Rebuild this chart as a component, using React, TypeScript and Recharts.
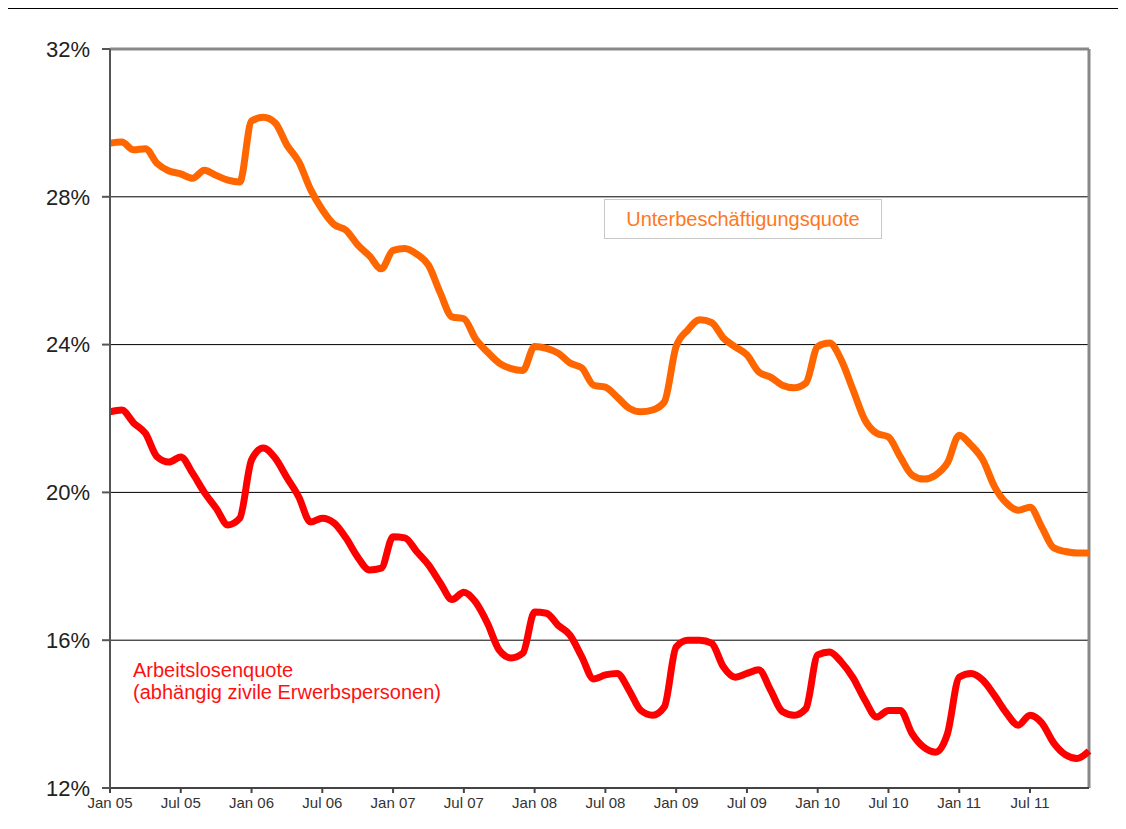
import { LineChart, Line, XAxis, YAxis, CartesianGrid, ReferenceLine } from 'recharts';

const years = ['05', '06', '07', '08', '09', '10', '11'];
const monthNames = ['Jan', 'Feb', 'Mar', 'Apr', 'May', 'Jun', 'Jul', 'Aug', 'Sep', 'Oct', 'Nov', 'Dec'];
const months = years.flatMap((y) => monthNames.map((m) => `${m} ${y}`));

const xTicks = years.flatMap((y) => [`Jan ${y}`, `Jul ${y}`]);
const yTicks = [12, 16, 20, 24, 28, 32];

// Unterbeschäftigungsquote, % (monthly, Jan 05 - Dec 11)
const unterbeschaeftigung = [
  29.45, 29.48, 29.27, 29.3, 28.9, 28.7, 28.62, 28.5, 28.72, 28.58, 28.45, 28.4,
  30.05, 30.15, 30.0, 29.4, 28.95, 28.2, 27.65, 27.25, 27.1, 26.7, 26.4, 26.05,
  26.55, 26.6, 26.45, 26.15, 25.4, 24.75, 24.7, 24.15, 23.8, 23.5, 23.35, 23.3,
  23.95, 23.9, 23.77, 23.5, 23.37, 22.9, 22.85, 22.58, 22.28, 22.18, 22.23, 22.45,
  23.95, 24.4, 24.67, 24.6, 24.18, 23.94, 23.72, 23.26, 23.12, 22.9, 22.83, 22.96,
  23.95, 24.04, 23.58, 22.77, 21.96, 21.6, 21.5, 20.96, 20.47, 20.36, 20.47, 20.8,
  21.55, 21.28, 20.88, 20.15, 19.71, 19.52, 19.6, 19.06, 18.5, 18.4, 18.36, 18.36,
];

// Arbeitslosenquote (abhängig zivile Erwerbspersonen), %
const arbeitslosen = [
  22.18, 22.23, 21.88, 21.6, 20.96, 20.82, 20.96, 20.52, 20.0, 19.57, 19.12, 19.3,
  20.88, 21.2, 20.93, 20.4, 19.88, 19.2, 19.3, 19.17, 18.77, 18.25, 17.9, 17.95,
  18.8, 18.77, 18.4, 18.04, 17.55, 17.1, 17.3, 17.03, 16.46, 15.73, 15.52, 15.65,
  16.76, 16.73, 16.4, 16.14, 15.55, 14.95, 15.06, 15.1, 14.65, 14.1, 13.97, 14.2,
  15.82, 16.0, 16.0, 15.92, 15.28, 15.0, 15.1, 15.2, 14.65, 14.07, 13.97, 14.15,
  15.6, 15.68, 15.41, 14.98, 14.38, 13.92, 14.1, 14.1, 13.47, 13.1, 12.97, 13.47,
  15.0, 15.1, 14.92, 14.5, 14.03, 13.7, 13.97, 13.76, 13.22, 12.9, 12.8, 13.0,
];

const data = months.map((m, i) => ({
  month: m,
  ubq: unterbeschaeftigung[i],
  alq: arbeitslosen[i],
}));

const FONT = '"Liberation Sans", Arial, sans-serif';

export default function App() {
  return (
    <div
      style={{
        position: 'relative',
        width: 1118,
        height: 821,
        marginLeft: -1,
        borderTop: '1px solid #000',
        borderLeft: '1px solid #000',
        fontFamily: FONT,
        background: '#fff',
      }}
    >
      <LineChart width={1118} height={820} data={data} margin={{ top: 40, right: 37, left: 0, bottom: 0 }}>
        <CartesianGrid vertical={false} stroke="#000" strokeWidth={1} />
        <XAxis
          dataKey="month"
          ticks={xTicks}
          interval={0}
          height={41}
          tickSize={5}
          stroke="#444"
          strokeWidth={2}
          tick={{ fill: '#333', fontSize: 15, fontFamily: FONT }}
          tickMargin={4}
        />
        <YAxis
          domain={[12, 32]}
          ticks={yTicks}
          width={102}
          tickSize={8}
          stroke="#555"
          strokeWidth={2}
          tickFormatter={(v: number) => `${v}%`}
          tick={{ fill: '#222', fontSize: 22, fontFamily: FONT }}
          tickMargin={12}
        />
        <ReferenceLine y={32} stroke="#888" strokeWidth={3} />
        <ReferenceLine x="Dec 11" stroke="#888" strokeWidth={3} />
        <Line
          type="monotone"
          dataKey="ubq"
          stroke="#ff6600"
          strokeWidth={7}
          dot={false}
          isAnimationActive={false}
        />
        <Line
          type="monotone"
          dataKey="alq"
          stroke="#ff0000"
          strokeWidth={7}
          dot={false}
          isAnimationActive={false}
        />
      </LineChart>
      <div
        style={{
          position: 'absolute',
          left: 596,
          top: 190,
          width: 276,
          height: 38,
          border: '1px solid #c8c8c8',
          background: '#fff',
          color: '#ff7722',
          fontSize: 20,
          lineHeight: '38px',
          textAlign: 'center',
        }}
      >
        Unterbeschäftigungsquote
      </div>
      <div
        style={{
          position: 'absolute',
          left: 125,
          top: 650,
          color: '#ff1111',
          fontSize: 20,
          lineHeight: '22px',
          whiteSpace: 'nowrap',
        }}
      >
        Arbeitslosenquote
        <br />
        (abhängig zivile Erwerbspersonen)
      </div>
    </div>
  );
}
